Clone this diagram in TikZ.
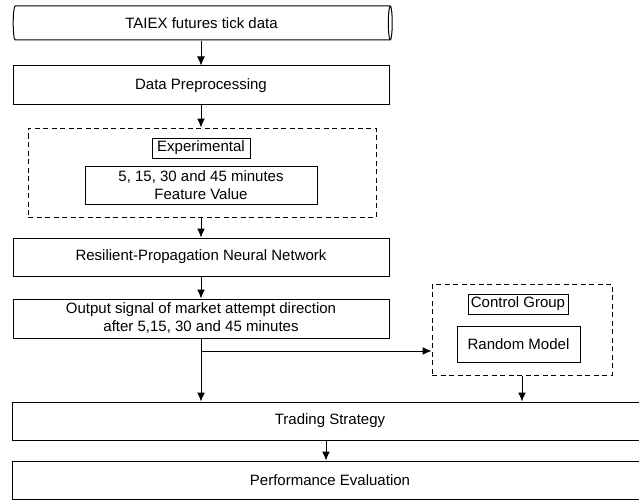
\documentclass[tikz,border=0pt]{standalone}
\usepackage{fontspec}
\setmainfont{Liberation Sans}
\usetikzlibrary{shapes.geometric,arrows.meta}
\begin{document}
\begin{tikzpicture}[x=1pt,y=-1pt,
  every node/.style={font=\fontsize{15}{18}\selectfont, align=center, inner sep=0pt, line width=1pt},
  box/.style={draw, rectangle},
  dashbox/.style={draw, rectangle, dash pattern=on 5pt off 3.5pt},
  conn/.style={line width=1pt, -{Latex[length=9pt,width=8pt]}},
  plain/.style={line width=1pt}]
\useasboundingbox (0,0) rectangle (639,500);
\clip (0,0) rectangle (639,500);
\node[draw, cylinder, shape aspect=0.35, minimum width=34pt, minimum height=379pt] (cyl) at (201.5,23) {TAIEX futures tick data};
\node[box, minimum width=376pt, minimum height=39pt] (dp) at (201,85.5) {Data Preprocessing};
\node[dashbox, minimum width=348pt, minimum height=89pt] (exp) at (202,172.5) {};
\node[box, minimum width=98pt, minimum height=20pt] (explab) at (201,148) {Experimental};
\node[box, minimum width=232pt, minimum height=38pt] (feat) at (201,185) {5, 15, 30 and 45 minutes\\Feature Value};
\node[box, minimum width=376pt, minimum height=38pt] (rpnn) at (201,257) {Resilient-Propagation Neural Network};
\node[box, minimum width=376pt, minimum height=39pt] (out) at (201,318.5) {Output signal of market attempt direction\\after 5,15, 30 and 45 minutes};
\node[dashbox, minimum width=180pt, minimum height=91pt] (ctrl) at (522,329.5) {};
\node[box, minimum width=100pt, minimum height=20pt] (ctrllab) at (518,304) {Control Group};
\node[box, minimum width=123pt, minimum height=36pt] (rand) at (518.5,344) {Random Model};
\node[box, minimum width=636pt, minimum height=38pt] (trade) at (330,421) {Trading Strategy};
\node[box, minimum width=636pt, minimum height=38pt] (perf) at (330,480) {Performance Evaluation};
\coordinate (br) at (201,351);
\draw[conn] (cyl.south -| dp.north) -- (dp.north);
\draw[conn] (dp.south) -- (dp.south |- exp.north);
\draw[conn] (exp.south -| rpnn.north) -- (rpnn.north);
\draw[conn] (rpnn.south) -- (out.north);
\draw[conn] (out.south) -- (out.south |- trade.north);
\draw[conn] (br) -- (br -| ctrl.west);
\draw[conn] (ctrl.south) -- (ctrl.south |- trade.north);
\draw[conn] (trade.south -| 326,0) -- (perf.north -| 326,0);
\end{tikzpicture}
\end{document}
